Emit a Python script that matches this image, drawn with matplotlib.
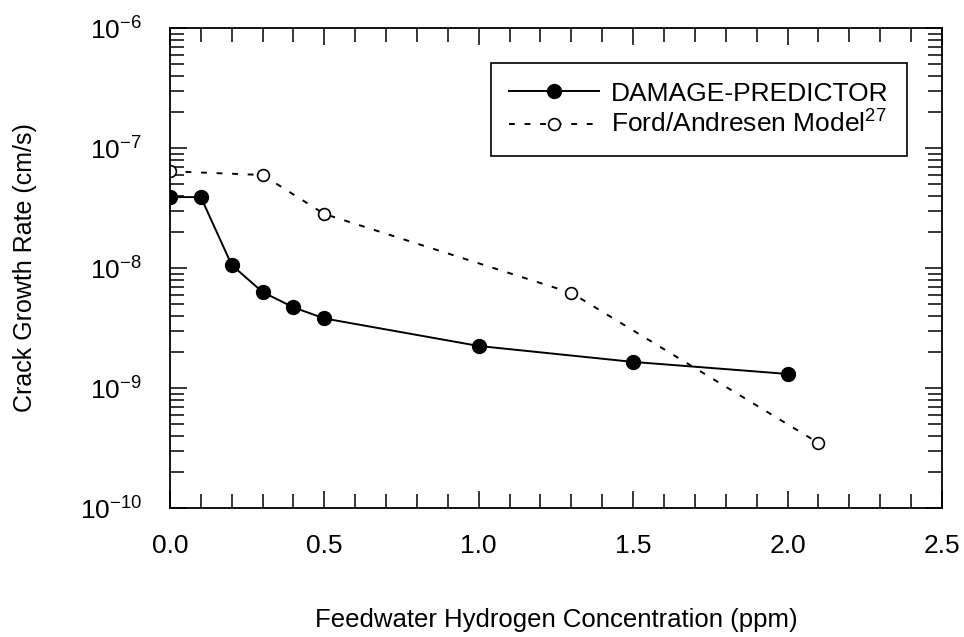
import matplotlib.pyplot as plt
from matplotlib.ticker import LogLocator, FixedLocator, NullFormatter

plt.rcParams['font.family'] = ['Liberation Sans', 'DejaVu Sans']
plt.rcParams['mathtext.fontset'] = 'custom'
plt.rcParams['mathtext.rm'] = 'Liberation Sans'
plt.rcParams['mathtext.it'] = 'Liberation Sans'

# data
dp_x = [0.0, 0.1, 0.2, 0.3, 0.4, 0.5, 1.0, 1.5, 2.0]
dp_y = [3.9e-8, 3.9e-8, 1.06e-8, 6.3e-9, 4.7e-9, 3.8e-9, 2.24e-9, 1.65e-9, 1.31e-9]

fa_x = [0.0, 0.3, 0.5, 1.3, 2.1]
fa_y = [6.4e-8, 5.96e-8, 2.82e-8, 6.2e-9, 3.48e-10]

x_ticks = [0.0, 0.5, 1.0, 1.5, 2.0, 2.5]
y_ticks = [1e-10, 1e-9, 1e-8, 1e-7, 1e-6]
y_labels = ['$10^{-10}$', '$10^{-9}$', '$10^{-8}$', '$10^{-7}$', '$10^{-6}$']

fig = plt.figure(figsize=(9.64, 6.37), dpi=100)
ax = fig.add_axes([0.1763, 0.2025, 0.8008, 0.7535])

ax.plot(dp_x, dp_y, color='black', linewidth=1.4, marker='o',
        markersize=10, markerfacecolor='black', label='DAMAGE-PREDICTOR')
ax.plot(fa_x, fa_y, color='black', linewidth=1.4, linestyle=(0, (3, 5)),
        marker='o', markersize=8.5, markerfacecolor='white',
        markeredgewidth=1.2, label='Ford/Andresen Model$^{27}$')

ax.set_yscale('log')
ax.set_xlim(0, 2.5)
ax.set_ylim(1e-10, 1e-6)

ax.set_xticks(x_ticks)
ax.set_xticklabels([f'{v:.1f}' for v in x_ticks])
ax.xaxis.set_minor_locator(FixedLocator([i / 10 for i in range(26)]))
ax.set_yticks(y_ticks)
ax.set_yticklabels(y_labels)
ax.yaxis.set_minor_locator(LogLocator(base=10, subs=range(2, 10), numticks=20))
ax.yaxis.set_minor_formatter(NullFormatter())

ax.tick_params(which='both', direction='in', top=True, right=True,
               labelsize=19, width=1.1)
ax.tick_params(axis='x', which='both', pad=19)
ax.tick_params(axis='y', which='both', pad=20)
ax.tick_params(which='major', length=12)
ax.tick_params(which='minor', length=10)
for s in ax.spines.values():
    s.set_linewidth(1.3)

ax.set_xlabel('Feedwater Hydrogen Concentration (ppm)', fontsize=18.5, labelpad=36)
ax.set_ylabel('Crack Growth Rate (cm/s)', fontsize=18, labelpad=31)

leg = ax.legend(loc='upper right', bbox_to_anchor=(0.955, 0.927),
                borderaxespad=0, fontsize=19, fancybox=False, framealpha=1,
                edgecolor='black', handlelength=3.4, handletextpad=0.45,
                borderpad=0.7, labelspacing=0.2)
leg.get_frame().set_linewidth(1.2)

fig.savefig('out.png', dpi=100)
